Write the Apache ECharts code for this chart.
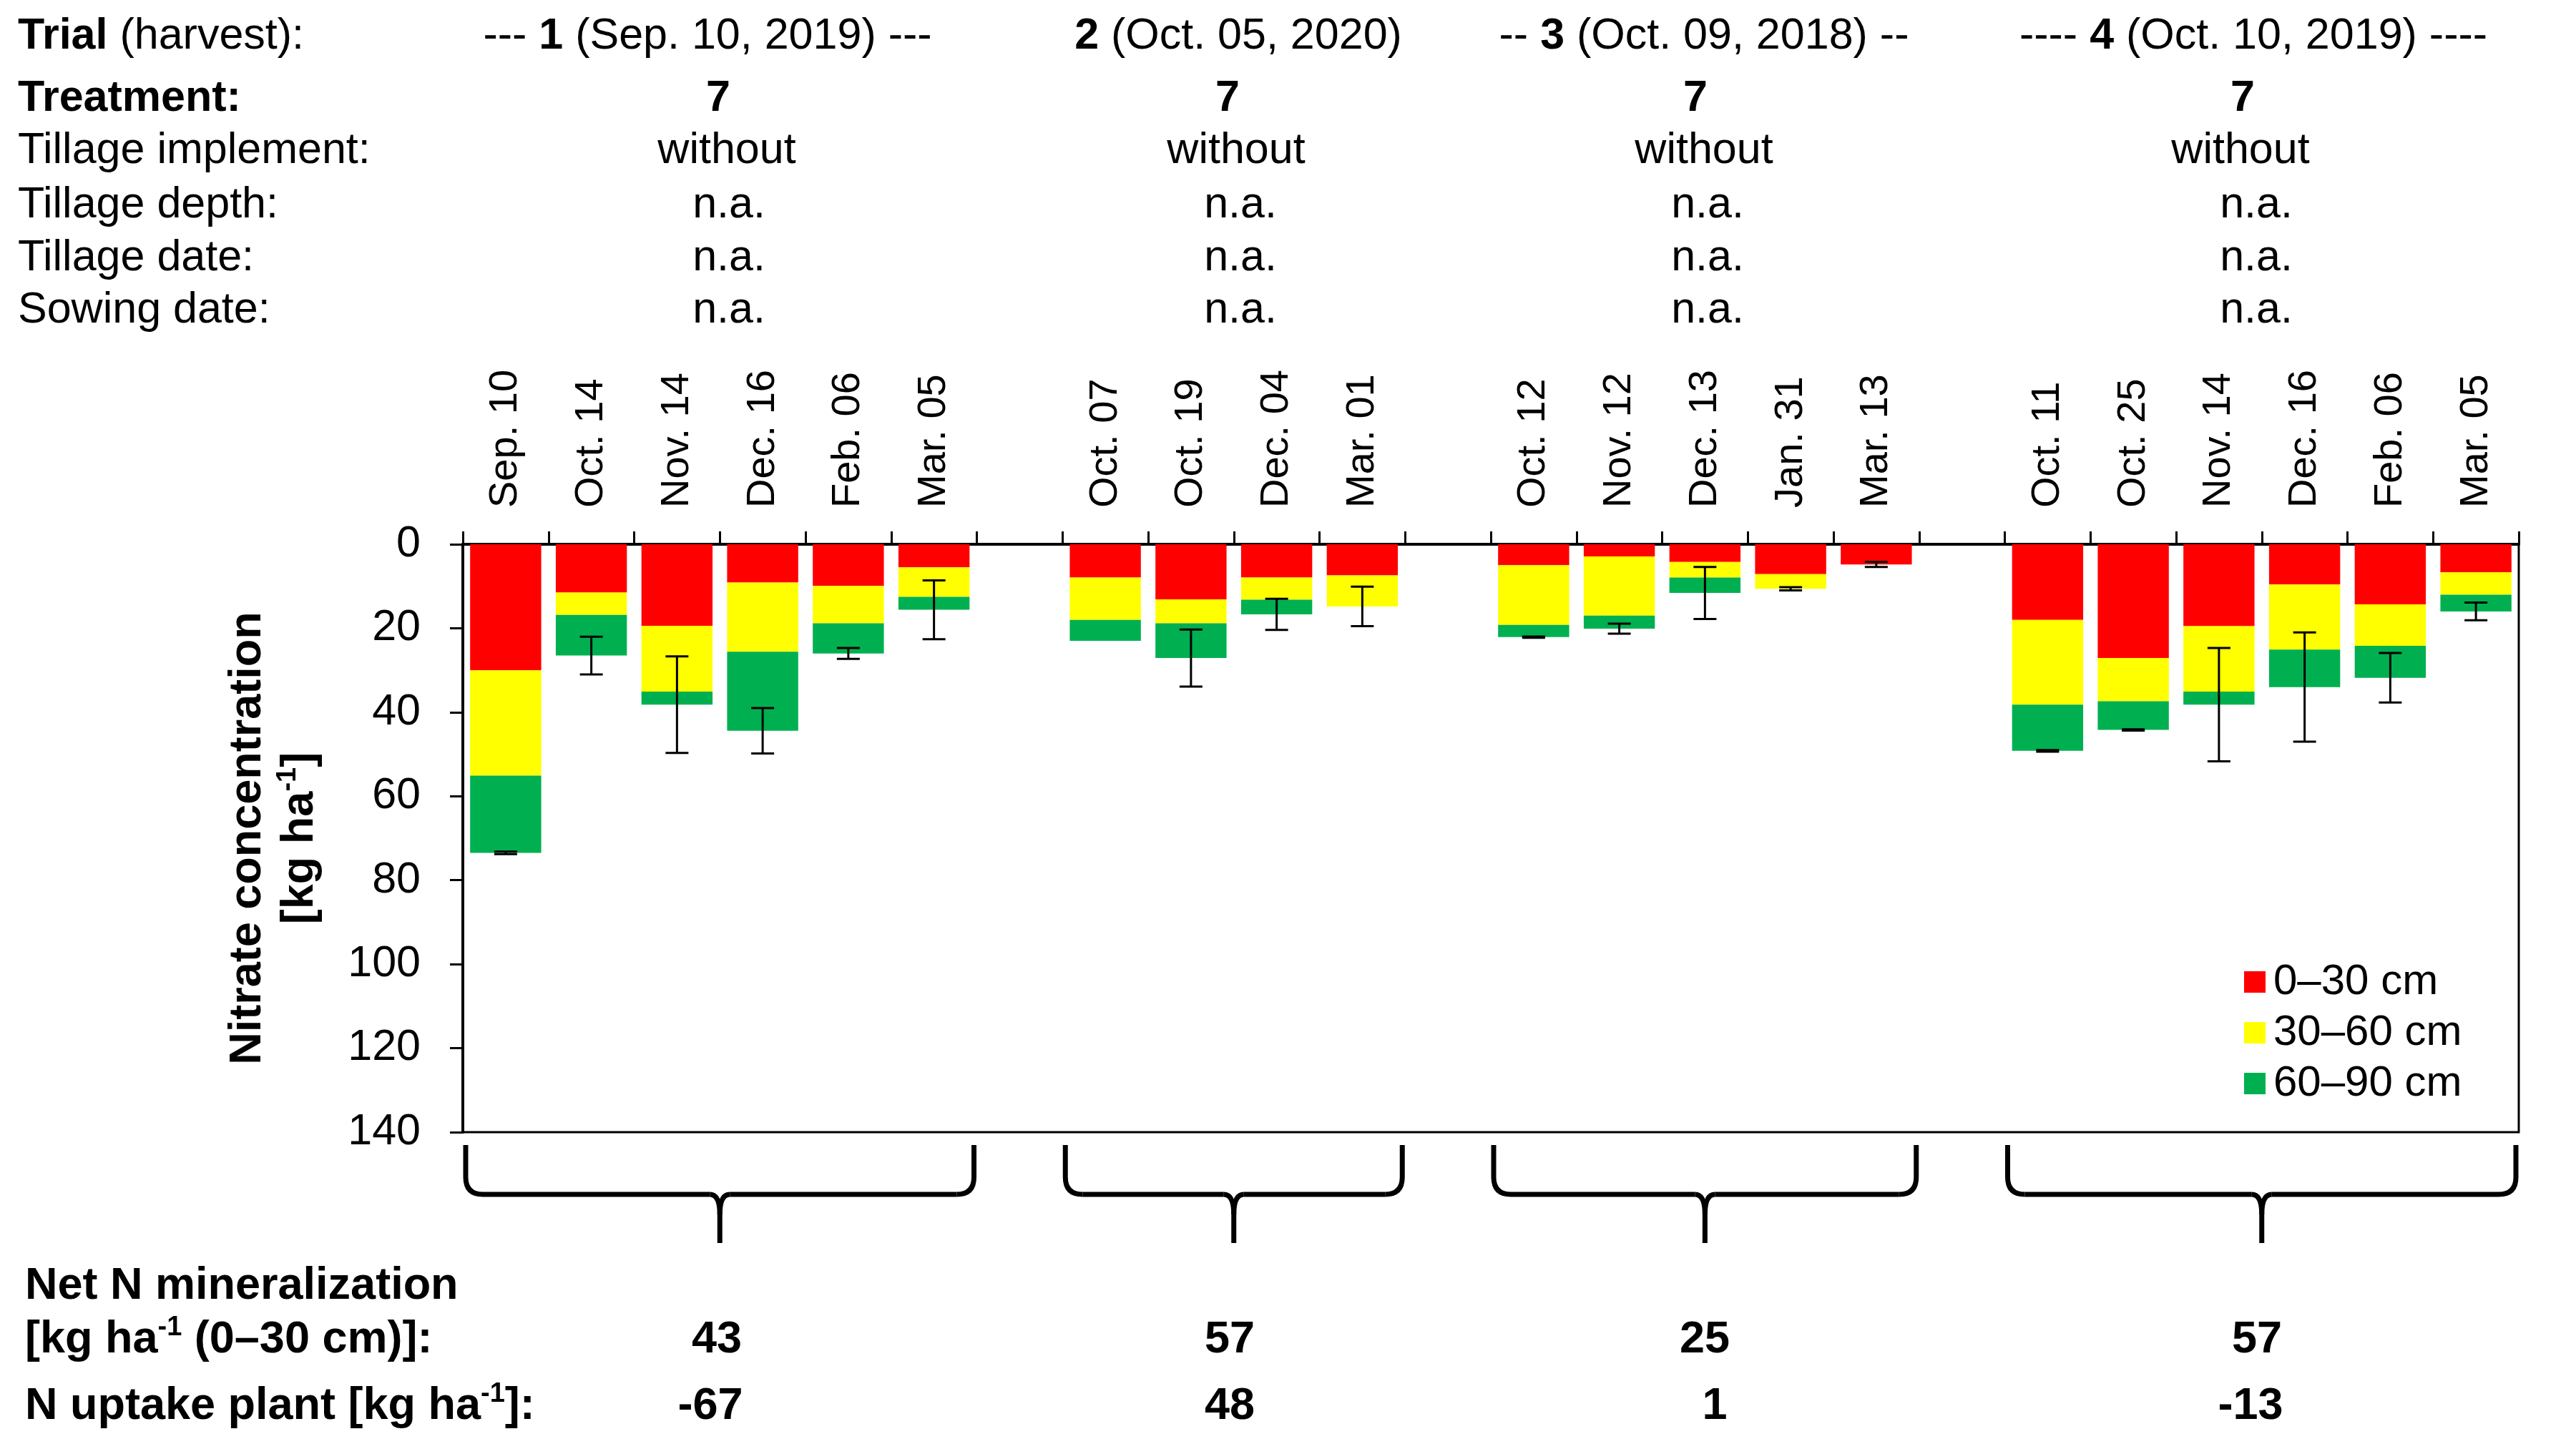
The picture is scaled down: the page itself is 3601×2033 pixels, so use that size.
<!DOCTYPE html>
<html>
<head>
<meta charset="utf-8">
<script src="https://cdn.jsdelivr.net/npm/echarts@6/dist/echarts.min.js"></script>
<style>
html,body{margin:0;padding:0;background:#fff;}
#chart{width:3601px;height:2033px;}
</style>
</head>
<body>
<div id="chart"></div>
<script>
// ---------- DATA ----------
const categories = ['Sep. 10','Oct. 14','Nov. 14','Dec. 16','Feb. 06','Mar. 05',' ',
  'Oct. 07','Oct. 19','Dec. 04','Mar. 01','  ',
  'Oct. 12','Nov. 12','Dec. 13','Jan. 31','Mar. 13','   ',
  'Oct. 11','Oct. 25','Nov. 14','Dec. 16','Feb. 06','Mar. 05'];
const layer0_30  = [30.0,11.5,19.4, 9.1, 9.9, 5.5,null, 7.9,13.1, 7.9, 7.4,null, 5.0, 2.9, 4.2, 7.1, 4.8,null,18.0,27.1,19.5, 9.6,14.3, 6.7];
const layer30_60 = [25.1, 5.3,15.7,16.5, 8.9, 7.0,null,10.1, 5.7, 5.3, 7.4,null,14.2,14.1, 3.7, 3.5, 0,  null,20.2,10.3,15.6,15.5, 9.9, 5.3];
const layer60_90 = [18.4, 9.7, 3.1,18.8, 7.2, 3.1,null, 5.0, 8.3, 3.5, 0,  null, 2.9, 3.1, 3.7, 0,   0,  null,11.0, 6.8, 3.1, 8.9, 7.6, 4.0];
const errorSD    = [0.3, 4.5,11.5, 5.4, 1.3, 7.0,null,null, 6.8, 3.7, 4.7,null,0.15, 1.2, 6.2, 0.4, 0.6,null, 0.2,0.15,13.5,13.0, 5.9, 2.1];
const seriesNames = ['0–30 cm','30–60 cm','60–90 cm'];
const yTicks = {min:0, max:140, interval:20};

const trialHeaders = [['--- ','1',' (Sep. 10, 2019) ---'],['','2',' (Oct. 05, 2020)'],['-- ','3',' (Oct. 09, 2018) --'],['---- ','4',' (Oct. 10, 2019) ----']];
const treatment = ['7','7','7','7'];
const tillageImplement = ['without','without','without','without'];
const tillageDepth = ['n.a.','n.a.','n.a.','n.a.'];
const tillageDate = ['n.a.','n.a.','n.a.','n.a.'];
const sowingDate = ['n.a.','n.a.','n.a.','n.a.'];
const netMineralization = ['43','57','25','57'];
const nUptake = ['-67','48','1','-13'];
const groups = [[0,5],[7,10],[12,16],[18,23]];

// ---------- CHART ----------
const FF = 'Liberation Sans, Arial, sans-serif';
const chart = echarts.init(document.getElementById('chart'));
const GRID = {left:647, top:761, width:2874, height:822};

const errData = errorSD.map((e,i)=>{
  if (e === null || layer0_30[i] === null) return null;
  const tot = (layer0_30[i]||0)+(layer30_60[i]||0)+(layer60_90[i]||0);
  return [i, tot, e];
}).filter(d=>d);

const colors = ['#FF0000','#FFFF00','#00B050'];
const layers = [layer0_30, layer30_60, layer60_90];

const option = {
  animation:false,
  backgroundColor:'#fff',
  textStyle:{fontFamily:FF},
  grid:{left:GRID.left, top:GRID.top, width:GRID.width, height:GRID.height, show:true, borderColor:'#000', borderWidth:3, backgroundColor:'transparent'},
  legend:{
    data:seriesNames, orient:'vertical', left:3132, top:1338,
    itemWidth:30, itemHeight:30, itemGap:11, icon:'rect',
    textStyle:{fontSize:60, lineHeight:60, color:'#000', fontFamily:FF, padding:[0,0,0,6]}
  },
  xAxis:{
    type:'category', position:'top', data:categories,
    axisLine:{show:true, lineStyle:{color:'#000', width:4}},
    axisTick:{show:true, length:18, lineStyle:{color:'#000', width:3}},
    axisLabel:{rotate:90, fontSize:56, color:'#000', margin:51, fontFamily:FF, interval:0},
    splitLine:{show:false}
  },
  yAxis:{
    type:'value', inverse:true, min:yTicks.min, max:yTicks.max, interval:yTicks.interval,
    axisLine:{show:true, lineStyle:{color:'#000', width:4}},
    axisTick:{show:true, length:18, lineStyle:{color:'#000', width:3}},
    axisLabel:{fontSize:61, color:'#000', margin:59, fontFamily:FF},
    splitLine:{show:false}
  },
  series: layers.map((arr,k)=>({
    name:seriesNames[k], type:'bar', stack:'total', data:arr, barWidth:'83%',
    itemStyle:{color:colors[k]}
  })).concat([{
    type:'custom', z:10, data:errData,
    encode:{x:0, y:1},
    renderItem:function(params, api){
      const i = api.value(0), t = api.value(1), e = api.value(2);
      const p1 = api.coord([i, t - e]);
      const p2 = api.coord([i, t + e]);
      const hw = 16;
      const st = {stroke:'#000', lineWidth:3};
      return {type:'group', children:[
        {type:'line', shape:{x1:p1[0], y1:p1[1], x2:p2[0], y2:p2[1]}, style:st},
        {type:'line', shape:{x1:p1[0]-hw, y1:p1[1], x2:p1[0]+hw, y2:p1[1]}, style:st},
        {type:'line', shape:{x1:p2[0]-hw, y1:p2[1], x2:p2[0]+hw, y2:p2[1]}, style:st}
      ]};
    }
  }])
};
chart.setOption(option);

// ---------- ANNOTATIONS ----------
const g = [];
function txt(x, y, text, opts){
  g.push({type:'text', x:x, y:y, style:Object.assign({
    text:text, fontSize:61, fontFamily:FF, fill:'#000', align:'center', verticalAlign:'middle'
  }, opts||{})});
}
// header row labels
const rowY = [51, 138, 211, 287, 361, 434];
g.push({type:'text', x:25, y:rowY[0], style:{text:'{b|Trial}{n| (harvest):}', fontFamily:FF, fill:'#000', align:'left', verticalAlign:'middle',
  rich:{b:{fontSize:61, fontWeight:'bold', fontFamily:FF}, n:{fontSize:61, fontFamily:FF}}}});
txt(25, rowY[1], 'Treatment:', {align:'left', fontWeight:'bold'});
txt(25, rowY[2], 'Tillage implement:', {align:'left'});
txt(25, rowY[3], 'Tillage depth:', {align:'left'});
txt(25, rowY[4], 'Tillage date:', {align:'left'});
txt(25, rowY[5], 'Sowing date:', {align:'left'});

const hdrX = [989, 1731, 2382, 3150];
const trtX = [1004, 1716, 2370, 3135];
const impX = [1016, 1728, 2382, 3132];
const naX  = [1019, 1734, 2387, 3154];
trialHeaders.forEach((h,k)=>{
  g.push({type:'text', x:hdrX[k], y:rowY[0], style:{text:'{n|'+h[0]+'}{b|'+h[1]+'}{n|'+h[2]+'}', fontFamily:FF, fill:'#000', align:'center', verticalAlign:'middle',
    rich:{b:{fontSize:61, fontWeight:'bold', fontFamily:FF}, n:{fontSize:61, fontFamily:FF}}}});
  txt(trtX[k], rowY[1], treatment[k], {fontWeight:'bold'});
  txt(impX[k], rowY[2], tillageImplement[k]);
  txt(naX[k], rowY[3], tillageDepth[k]);
  txt(naX[k], rowY[4], tillageDate[k]);
  txt(naX[k], rowY[5], sowingDate[k]);
});

// y axis title (rotated)
g.push({type:'text', x:347, y:1172, rotation:Math.PI/2, style:{text:'Nitrate concentration', fontSize:63, fontWeight:'bold', fontFamily:FF, fill:'#000', align:'center', verticalAlign:'middle'}});
g.push({type:'text', x:420, y:1172, rotation:Math.PI/2, style:{text:'{n|[kg ha}{s|-1}{n|]}', fontFamily:FF, fill:'#000', align:'center', verticalAlign:'middle',
  rich:{n:{fontSize:63, fontWeight:'bold', fontFamily:FF, lineHeight:72}, s:{fontSize:38, fontWeight:'bold', fontFamily:FF, lineHeight:40, verticalAlign:'top'}}}});

// bottom texts
const botY = [1799, 1874, 1967];
const richB = {n:{fontSize:63, fontWeight:'bold', fontFamily:FF, lineHeight:72}, s:{fontSize:38, fontWeight:'bold', fontFamily:FF, lineHeight:40, verticalAlign:'top'}};
txt(35, botY[0], 'Net N mineralization', {align:'left', fontWeight:'bold', fontSize:63});
g.push({type:'text', x:35, y:botY[1], style:{text:'{n|[kg ha}{s|-1}{n| (0–30 cm)]:}', fontFamily:FF, fill:'#000', align:'left', verticalAlign:'middle', rich:richB}});
g.push({type:'text', x:35, y:botY[2], style:{text:'{n|N uptake plant [kg ha}{s|-1}{n|]:}', fontFamily:FF, fill:'#000', align:'left', verticalAlign:'middle', rich:richB}});
const minX = [1002, 1719, 2383, 3155];
const upX  = [993, 1719, 2397, 3146];
netMineralization.forEach((v,k)=>txt(minX[k], botY[1], v, {fontWeight:'bold', fontSize:63}));
nUptake.forEach((v,k)=>txt(upX[k], botY[2], v, {fontWeight:'bold', fontSize:63}));

// braces under each trial group, positioned from the category axis
const c0 = chart.convertToPixel({xAxisIndex:0}, 0);
const c1 = chart.convertToPixel({xAxisIndex:0}, 1);
const band = c1 - c0;
const bst = {stroke:'#000', lineWidth:7, fill:null, lineCap:'butt'};
groups.forEach(([a,b])=>{
  const x0 = chart.convertToPixel({xAxisIndex:0}, a) - band/2 + 4;
  const x1 = chart.convertToPixel({xAxisIndex:0}, b) + band/2 - 4;
  const xc = (x0 + x1)/2;
  const yt = 1601, yh = 1670, yp = 1738;
  const r = 24, rc = 14;
  const parts = [
    {type:'line', shape:{x1:x0, y1:yt, x2:x0, y2:yh-r}},
    {type:'bezierCurve', shape:{x1:x0, y1:yh-r, cpx1:x0, cpy1:yh, x2:x0+r, y2:yh}},
    {type:'line', shape:{x1:x0+r, y1:yh, x2:xc-rc, y2:yh}},
    {type:'bezierCurve', shape:{x1:xc-rc, y1:yh, cpx1:xc, cpy1:yh, x2:xc, y2:yh+rc*2}},
    {type:'line', shape:{x1:xc, y1:yh+rc*2, x2:xc, y2:yp}},
    {type:'bezierCurve', shape:{x1:xc+rc, y1:yh, cpx1:xc, cpy1:yh, x2:xc, y2:yh+rc*2}},
    {type:'line', shape:{x1:xc+rc, y1:yh, x2:x1-r, y2:yh}},
    {type:'bezierCurve', shape:{x1:x1-r, y1:yh, cpx1:x1, cpy1:yh, x2:x1, y2:yh-r}},
    {type:'line', shape:{x1:x1, y1:yh-r, x2:x1, y2:yt}}
  ];
  parts.forEach(p=>{ p.style = Object.assign({}, bst); g.push(p); });
});

chart.setOption({graphic:{elements:g}});
</script>
</body>
</html>
